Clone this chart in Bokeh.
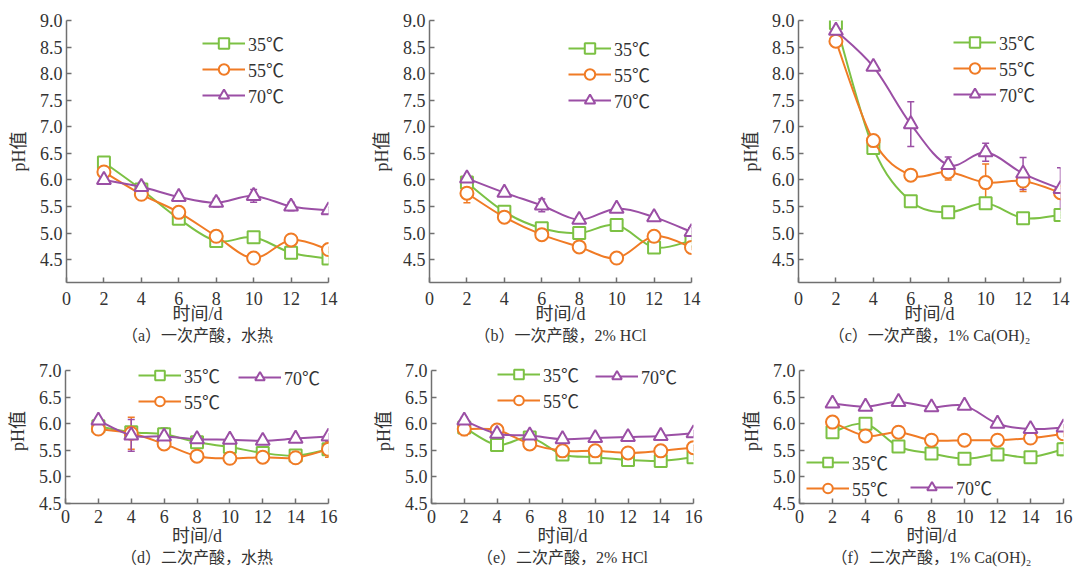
from bokeh.plotting import figure
from bokeh.models import (ColumnDataSource, FixedTicker, Range1d, Legend, LegendItem,
                          Whisker, TeeHead, Title, PrintfTickFormatter)
from bokeh.layouts import row, column
from bokeh.embed import file_html
from bokeh.resources import INLINE

# ---------------- data ----------------
days_first = [2, 4, 6, 8, 10, 12, 14]
days_second = [2, 4, 6, 8, 10, 12, 14, 16]
series_labels = ["35℃", "55℃", "70℃"]

# (a) first acid production, hydrothermal
a_35 = [6.33, 5.82, 5.27, 4.85, 4.92, 4.63, 4.52]
a_55 = [6.15, 5.73, 5.39, 4.94, 4.53, 4.87, 4.69]
a_70 = [6.00, 5.87, 5.68, 5.57, 5.70, 5.50, 5.43]
a_35_err = [0.05, 0.05, 0.10, 0.08, 0.05, 0.05, 0.10]
a_55_err = [0.08, 0.05, 0.08, 0.05, 0.06, 0.08, 0.05]
a_70_err = [0.06, 0.08, 0.06, 0.08, 0.12, 0.08, 0.06]

# (b) first acid production, 2% HCl
b_35 = [5.95, 5.40, 5.09, 5.00, 5.15, 4.73, 4.86]
b_55 = [5.75, 5.30, 4.97, 4.74, 4.53, 4.94, 4.73]
b_70 = [6.03, 5.76, 5.52, 5.25, 5.46, 5.30, 5.02]
b_35_err = [0.05, 0.05, 0.05, 0.05, 0.05, 0.05, 0.05]
b_55_err = [0.18, 0.05, 0.05, 0.05, 0.06, 0.06, 0.04]
b_70_err = [0.05, 0.06, 0.12, 0.06, 0.06, 0.06, 0.08]

# (c) first acid production, 1% Ca(OH)2
c_35 = [8.95, 6.60, 5.60, 5.39, 5.56, 5.28, 5.34]
c_55 = [8.61, 6.74, 6.09, 6.15, 5.95, 5.98, 5.76]
c_70 = [8.81, 8.13, 7.05, 6.28, 6.52, 6.12, 5.83]
c_35_err = [0.05, 0.06, 0.04, 0.04, 0.06, 0.04, 0.06]
c_55_err = [0.05, 0.10, 0.04, 0.15, 0.35, 0.20, 0.10]
c_70_err = [0.05, 0.05, 0.42, 0.15, 0.17, 0.30, 0.40]

# (d) second acid production, hydrothermal
d_35 = [5.95, 5.84, 5.80, 5.65, 5.56, 5.45, 5.40, 5.52]
d_55 = [5.90, 5.82, 5.62, 5.39, 5.35, 5.37, 5.36, 5.52]
d_70 = [6.06, 5.78, 5.76, 5.71, 5.70, 5.68, 5.72, 5.76]
d_35_err = [0.05, 0.05, 0.12, 0.05, 0.05, 0.05, 0.05, 0.05]
d_55_err = [0.05, 0.30, 0.06, 0.05, 0.04, 0.06, 0.06, 0.15]
d_70_err = [0.05, 0.30, 0.15, 0.05, 0.05, 0.04, 0.05, 0.05]

# (e) second acid production, 2% HCl
e_35 = [5.93, 5.60, 5.74, 5.42, 5.37, 5.32, 5.30, 5.37]
e_55 = [5.90, 5.88, 5.62, 5.49, 5.49, 5.45, 5.49, 5.55]
e_70 = [6.06, 5.81, 5.78, 5.71, 5.73, 5.75, 5.77, 5.82]
e_35_err = [0.05, 0.05, 0.05, 0.05, 0.04, 0.04, 0.06, 0.05]
e_55_err = [0.12, 0.06, 0.04, 0.05, 0.08, 0.05, 0.05, 0.05]
e_70_err = [0.06, 0.05, 0.05, 0.04, 0.04, 0.04, 0.05, 0.05]

# (f) second acid production, 1% Ca(OH)2
f_35 = [5.84, 6.00, 5.57, 5.44, 5.34, 5.42, 5.37, 5.52]
f_55 = [6.03, 5.77, 5.84, 5.69, 5.69, 5.69, 5.73, 5.81]
f_70 = [6.38, 6.32, 6.41, 6.31, 6.34, 6.00, 5.90, 5.93]
f_35_err = [0.06, 0.05, 0.05, 0.05, 0.05, 0.05, 0.05, 0.12]
f_55_err = [0.04, 0.05, 0.08, 0.05, 0.05, 0.05, 0.05, 0.05]
f_70_err = [0.06, 0.06, 0.06, 0.06, 0.06, 0.05, 0.05, 0.05]

captions = ["（a）一次产酸，水热", "（b）一次产酸，2% HCl", "（c）一次产酸，1% Ca(OH)₂",
            "（d）二次产酸，水热", "（e）二次产酸，2% HCl", "（f）二次产酸，1% Ca(OH)₂"]
first_yticks = [4.5, 5.0, 5.5, 6.0, 6.5, 7.0, 7.5, 8.0, 8.5, 9.0]
second_yticks = [4.5, 5.0, 5.5, 6.0, 6.5, 7.0]

# ---------------- style ----------------
COLORS = ["#7cc144", "#f07b25", "#9b4fa5"]
MARKERS = ["square", "circle", "triangle"]
SIZES = [12, 13, 14]
SERIF = "'Liberation Serif', 'Noto Sans CJK SC'"
AXIS_COLOR = "#707070"
TEXT_COLOR = "#333333"


def smooth(x, y):
    """Catmull-Rom control points so the curve passes through every data point."""
    n = len(x)
    out = dict(x0=[], y0=[], x1=[], y1=[], cx0=[], cy0=[], cx1=[], cy1=[])
    for i in range(n - 1):
        xp, yp = (x[i - 1], y[i - 1]) if i > 0 else (x[i], y[i])
        xn, yn = (x[i + 2], y[i + 2]) if i + 2 < n else (x[i + 1], y[i + 1])
        out["x0"].append(x[i]); out["y0"].append(y[i])
        out["x1"].append(x[i + 1]); out["y1"].append(y[i + 1])
        out["cx0"].append(x[i] + (x[i + 1] - xp) / 6.0)
        out["cy0"].append(y[i] + (y[i + 1] - yp) / 6.0)
        out["cx1"].append(x[i + 1] - (xn - x[i]) / 6.0)
        out["cy1"].append(y[i + 1] - (yn - y[i]) / 6.0)
    return out


def make_panel(width, height, borders, xmax, yr, ybounds, yticks, caption, days, values, errs,
               legend_groups, item_h, tick_standoff, title_standoff, cap_standoff, cap_offset):
    bl, br, bt, bb = borders
    p = figure(width=width, height=height, min_border_left=bl, min_border_right=br,
               min_border_top=bt, min_border_bottom=bb,
               x_range=Range1d(0, xmax), y_range=Range1d(*yr),
               toolbar_location=None, output_backend="svg")
    p.outline_line_color = None
    p.grid.visible = False
    p.background_fill_color = "white"
    p.border_fill_color = "white"

    for ax in (p.xaxis[0], p.yaxis[0]):
        ax.axis_line_color = AXIS_COLOR
        ax.axis_line_width = 1.5
        ax.major_tick_line_color = AXIS_COLOR
        ax.major_tick_line_width = 1.5
        ax.major_tick_in = 5
        ax.major_tick_out = 0
        ax.minor_tick_line_color = None
        ax.major_label_text_font = SERIF
        ax.major_label_text_font_size = "18px"
        ax.major_label_text_color = TEXT_COLOR
        ax.axis_label_text_font = SERIF
        ax.axis_label_text_font_size = "18px"
        ax.axis_label_text_font_style = "normal"
        ax.axis_label_text_color = TEXT_COLOR

    p.xaxis.ticker = FixedTicker(ticks=list(range(0, xmax + 1, 2)))
    p.xaxis.major_label_standoff = tick_standoff
    p.xaxis.axis_label = "时间/d"
    p.xaxis.axis_label_standoff = title_standoff
    p.yaxis.ticker = FixedTicker(ticks=yticks)
    p.yaxis.bounds = ybounds
    p.yaxis.formatter = PrintfTickFormatter(format="%.1f")
    p.yaxis.major_label_standoff = 4
    p.yaxis.axis_label = "pH值"
    p.yaxis.axis_label_standoff = 8

    p.add_layout(Title(text=caption, align="center", text_font=SERIF, text_font_size="16px",
                       text_font_style="normal", text_color=TEXT_COLOR, standoff=cap_standoff,
                       offset=cap_offset),
                 "below")

    renderers = []
    for vals, err, color, marker, size in zip(values, errs, COLORS, MARKERS, SIZES):
        seg = smooth(days, vals)
        r_line = p.bezier(line_color=color, line_width=2, source=ColumnDataSource(seg))
        r_pts = p.scatter(days, vals, marker=marker, size=size, fill_color="white",
                          line_color=color, line_width=2)
        src = ColumnDataSource(dict(base=days,
                                    upper=[v + e for v, e in zip(vals, err)],
                                    lower=[v - e for v, e in zip(vals, err)]))
        w = Whisker(source=src, base="base", upper="upper", lower="lower",
                    line_color=color, line_width=1.5,
                    upper_head=TeeHead(size=7, line_color=color, line_width=1.5),
                    lower_head=TeeHead(size=7, line_color=color, line_width=1.5))
        p.add_layout(w)
        renderers.append([r_line, r_pts])

    for idxs, loc in legend_groups:
        items = [LegendItem(label=series_labels[i], renderers=renderers[i]) for i in idxs]
        lg = Legend(items=items, location=loc, orientation="vertical",
                    border_line_color=None, background_fill_alpha=0,
                    padding=0, margin=0, spacing=0,
                    glyph_width=43, glyph_height=item_h, label_standoff=3,
                    label_height=item_h,
                    label_text_font=SERIF, label_text_font_size="18px",
                    label_text_color=TEXT_COLOR)
        p.add_layout(lg)
    return p


TOP_H = 350
BOT_H = 219
top_y = (4.07, 9.0)
top_bounds = (4.07, 9.0)
# bottom frame extends 12 px above 7.0 so the legends are not clipped; axis stops at 7.0
bot_y = (4.5, 7.0 + 12 * 2.5 / 133)
bot_bounds = (4.5, 7.0)

pa = make_panel(365, TOP_H, (66, 37, 20, 68), 14, top_y, top_bounds, first_yticks, captions[0],
                days_first, [a_35, a_55, a_70], [a_35_err, a_55_err, a_70_err],
                [([0, 1, 2], (136, 174))], 26, 9, -4, -3, -4)
pb = make_panel(368, TOP_H, (64, 42, 20, 68), 14, top_y, top_bounds, first_yticks, captions[1],
                days_first, [b_35, b_55, b_70], [b_35_err, b_55_err, b_70_err],
                [([0, 1, 2], (139, 169))], 26, 9, -4, -3, -5)
pc = make_panel(342, TOP_H, (65, 15, 20, 68), 14, top_y, top_bounds, first_yticks, captions[2],
                days_first, [c_35, c_55, c_70], [c_35_err, c_55_err, c_70_err],
                [([0, 1, 2], (155, 175))], 26, 9, -4, -3, -5)

pd = make_panel(365, BOT_H, (65, 37, 8, 66), 16, bot_y, bot_bounds, second_yticks, captions[3],
                days_second, [d_35, d_55, d_70], [d_35_err, d_55_err, d_70_err],
                [([0, 1], (73, 89)), ([2], (173, 113))], 24, 6, 0, -3, -4)
pe = make_panel(368, BOT_H, (66, 40, 8, 66), 16, bot_y, bot_bounds, second_yticks, captions[4],
                days_second, [e_35, e_55, e_70], [e_35_err, e_55_err, e_70_err],
                [([0, 1], (66, 90)), ([2], (164, 114))], 24, 6, 0, -3, -5)
pf = make_panel(342, BOT_H, (66, 12, 8, 66), 16, bot_y, bot_bounds, second_yticks, captions[5],
                days_second, [f_35, f_55, f_70], [f_35_err, f_55_err, f_70_err],
                [([0, 1], (7, 2)), ([2], (111, 3))], 24, 6, 0, -3, -12)

layout = column(row(pa, pb, pc), row(pd, pe, pf))
open("out.html", "w").write(file_html(layout, INLINE))
